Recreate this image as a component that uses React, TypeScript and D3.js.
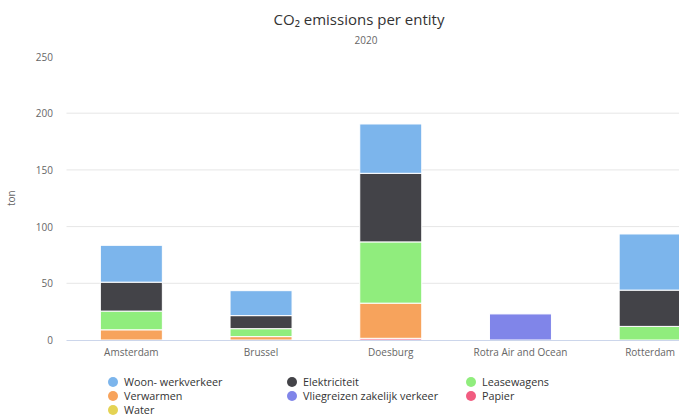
import React from "react";
import * as d3 from "d3";

const categories = ["Amsterdam", "Brussel", "Doesburg", "Rotra Air and Ocean", "Rotterdam"];
const seriesNames = [
  "Woon- werkverkeer",
  "Elektriciteit",
  "Leasewagens",
  "Verwarmen",
  "Vliegreizen zakelijk verkeer",
  "Papier",
  "Water",
];
const seriesColors = ["#7cb5ec", "#434348", "#90ed7d", "#f7a35c", "#8085e9", "#f15c80", "#e4d354"];
// values per series, per category
const woonWerk = [32.5, 22, 43.5, 0, 49.5];
const elektriciteit = [25.5, 11.5, 60.5, 0, 32];
const leasewagens = [16.5, 7, 54, 0, 12];
const verwarmen = [9, 3, 31, 0, 0];
const vliegreizen = [0, 0, 0, 23, 0];
const papier = [0, 0, 1.5, 0, 0];
const water = [0, 0, 0, 0, 0];
const seriesValues = [woonWerk, elektriciteit, leasewagens, verwarmen, vliegreizen, papier, water];
const yTicks = [0, 50, 100, 150, 200, 250];

const W = 679;
const H = 416;
const plotLeft = 66.5;
const plotRight = 715;
const plotTop = 56.5;
const plotBottom = 340;

export default function App() {
  const x = d3
    .scaleBand<string>()
    .domain(categories)
    .range([plotLeft, plotRight])
    .paddingInner(0.522)
    .paddingOuter(0.261);
  const y = d3.scaleLinear().domain([0, 250]).range([plotBottom, plotTop]);

  const rows = categories.map((c, i) => {
    const r: any = { cat: c };
    seriesNames.forEach((s, j) => (r[s] = seriesValues[j][i]));
    return r;
  });
  const stackOrder = [...seriesNames].reverse();
  const stacked = d3.stack<any>().keys(stackOrder)(rows);

  const font = "'Open Sans', 'DejaVu Sans', sans-serif";
  const legendCols = [113, 292, 471];
  const legendRows = [382, 396, 410];

  return (
    <svg
      width={W}
      height={H}
      style={{ position: "absolute", left: 0, top: 0, background: "#fff" }}
      fontFamily={font}
    >
      <rect x={0} y={0} width={W} height={H} fill="#fff" />
      <text x={359} y={25} textAnchor="middle" fontSize={15} fill="#333333">
        CO₂ emissions per entity
      </text>
      <text x={366} y={44} textAnchor="middle" fontSize={10} fill="#666666">
        2020
      </text>
      <text
        transform={`translate(15,${(plotTop + plotBottom) / 2}) rotate(-90)`}
        textAnchor="middle"
        fontSize={10}
        fill="#666666"
      >
        ton
      </text>
      {yTicks.map((t) => (
        <g key={t}>
          {t > 0 && t < 250 && (
            <line x1={plotLeft} x2={W} y1={y(t)} y2={y(t)} stroke="#e6e6e6" strokeWidth={1} />
          )}
          <text x={53} y={y(t) + 4} textAnchor="end" fontSize={10} fill="#666666">
            {t}
          </text>
        </g>
      ))}
      {stacked.map((layer) => {
        const idx = seriesNames.indexOf(layer.key as string);
        return (
          <g key={layer.key}>
            {layer.map((d, i) => {
              const h = y(d[0]) - y(d[1]);
              if (h <= 0) return null;
              return (
                <rect
                  key={i}
                  x={x(categories[i])!}
                  y={y(d[1])}
                  width={x.bandwidth()}
                  height={h}
                  fill={seriesColors[idx]}
                  stroke="#ffffff"
                  strokeWidth={1}
                />
              );
            })}
          </g>
        );
      })}
      <line x1={plotLeft} x2={W} y1={plotBottom + 0.5} y2={plotBottom + 0.5} stroke="#ccd6eb" strokeWidth={1} />
      {categories.map((c) => (
        <text
          key={c}
          x={x(c)! + x.bandwidth() / 2}
          y={356}
          textAnchor="middle"
          fontSize={10}
          fill="#666666"
        >
          {c}
        </text>
      ))}
      {seriesNames.map((s, i) => {
        const cx = legendCols[i % 3];
        const cy = legendRows[Math.floor(i / 3)];
        return (
          <g key={s}>
            <circle cx={cx} cy={cy} r={5} fill={seriesColors[i]} />
            <text x={cx + 11} y={cy + 4} fontSize={10.8} fill="#333333">
              {s}
            </text>
          </g>
        );
      })}
    </svg>
  );
}
